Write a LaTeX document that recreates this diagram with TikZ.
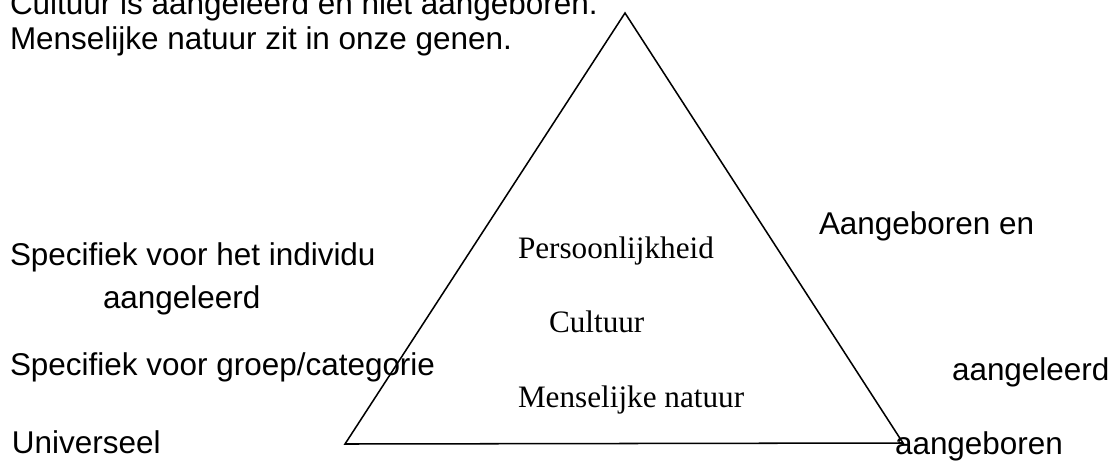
\documentclass[tikz,border=0pt]{standalone}
\usepackage{fontspec}
\newfontfamily\sansfnt{Liberation Sans}
\newfontfamily\seriffnt{Liberation Serif}
\begin{document}
\begin{tikzpicture}[x=0.75pt,y=-0.75pt,
  lbl/.style={anchor=base west,inner sep=0pt,outer sep=0pt,
    font=\sansfnt\fontsize{23.6pt}{28pt}\selectfont},
  inlbl/.style={anchor=base west,inner sep=0pt,outer sep=0pt,
    font=\seriffnt\fontsize{23.4pt}{28pt}\selectfont},
  edge/.style={draw=black,line width=1.15pt,line join=miter}]
\useasboundingbox (0,0) rectangle (1117,461);
\fill[white] (0,0) rectangle (1117,461);
% triangle
\coordinate (apex) at (625,13);
\coordinate (bl) at (345,444);
\coordinate (br) at (903,443);
\draw[edge] (bl) -- (apex) -- (br) -- cycle;
% top texts
\node[lbl] (t1) at (10,14) {Cultuur is aangeleerd en niet aangeboren.};
\node[lbl] (t2) at (10,49) {Menselijke natuur zit in onze genen.};
% left texts
\node[lbl] (l1) at (10,265) {Specifiek voor het individu};
\node[lbl] (l2) at (103,308) {aangeleerd};
\node[lbl] (l3) at (10,375) {Specifiek voor groep/categorie};
\node[lbl] (l4) at (12,453) {Universeel};
% right texts
\node[lbl] (r1) at (819,234) {Aangeboren en};
\node[lbl] (r2) at (952,380) {aangeleerd};
\node[lbl] (r3) at (895,454) {aangeboren};
% inner texts
\node[inlbl] (p) at (518,258) {Persoonlijkheid};
\node[inlbl] (c) at (549,332) {Cultuur};
\node[inlbl] (m) at (518,407) {Menselijke natuur};
\end{tikzpicture}
\end{document}
